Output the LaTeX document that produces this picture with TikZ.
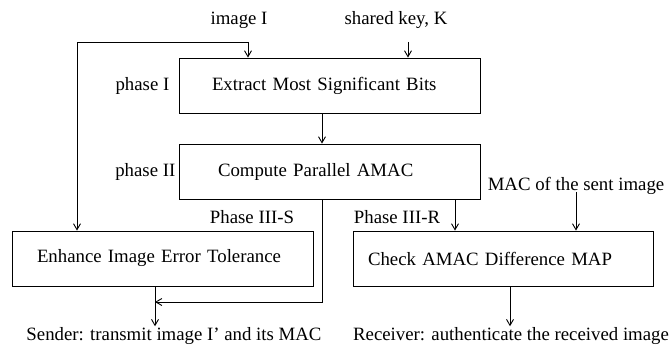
\documentclass[tikz,border=0pt]{standalone}
\usepackage{fontspec}
\setmainfont{Liberation Serif}
\usetikzlibrary{arrows.meta,positioning}
\tikzset{
  block/.style = {rectangle, draw=black, line width=0.9pt, align=left,
                  minimum height=55pt, font=\fontsize{18.8}{21}\selectfont},
  lbl/.style   = {inner sep=1pt, font=\fontsize{18.8}{21}\selectfont},
  arr/.style   = {-{Straight Barb[length=6pt,width=7pt]}, line width=0.9pt, draw=black},
}
\begin{document}
\begin{tikzpicture}[x=1pt, y=-1pt]
\useasboundingbox (0,0) rectangle (672,345);

%% phases I and II
\node[block, inner xsep=33pt, text width=235pt] (msb)  at (329.5,85.5)  {Extract Most Significant Bits};
\node[block, inner xsep=39pt, text width=223pt] (amac) at (329.5,171.5) {Compute Parallel AMAC};
\node[lbl, left=8pt of msb]  (ph1) {phase I};
\node[lbl, left=2pt of amac] (ph2) {phase II};

%% phase III
\node[block, inner xsep=25pt, text width=251pt] (enh) at (162.5,258.5) {Enhance Image Error Tolerance};
\node[block, inner xsep=15pt, text width=270pt] (chk) at (503,258.5)   {Check AMAC Difference MAP};
\node[lbl] (ph3s) at (252,217) {Phase III-S};
\node[lbl] (ph3r) at (397,217) {Phase III-R};

%% inputs and outputs
\node[lbl] (img)  at (239,20)  {image I};
\node[lbl] (key)  at (396,20)  {shared key, K};
\node[lbl] (mac)  at (576,186) {MAC of the sent image};
\node[lbl] (sender)   at (174,336) {Sender: transmit image I' and its MAC};
\node[lbl] (receiver) at (511,336) {Receiver: authenticate the received image};

\coordinate (tap)  at (248,42);
\coordinate (loop) at (77,42);
\coordinate (kx)   at (408,42);
\coordinate (mid)  at (322,0);
\coordinate (rx)   at (455,0);
\coordinate (join) at (155,302);
\coordinate (ox)   at (510,0);

\draw[arr] (tap) -- (tap |- msb.north);
\draw[arr] (tap) -- (loop) -- (loop |- enh.north);
\draw[arr] (kx) -- (kx |- msb.north);
\draw[arr] (mid |- msb.south) -- (mid |- amac.north);
\draw[arr] (mid |- amac.south) |- (join);
\draw[arr] (join |- enh.south) -- (join |- sender.north);
\draw[arr] (rx |- amac.south) -- (rx |- chk.north);
\draw[arr] ([yshift=4pt]mac.south) -- (mac.south |- chk.north);
\draw[arr] (ox |- chk.south) -- (ox |- receiver.north);

\end{tikzpicture}
\end{document}
